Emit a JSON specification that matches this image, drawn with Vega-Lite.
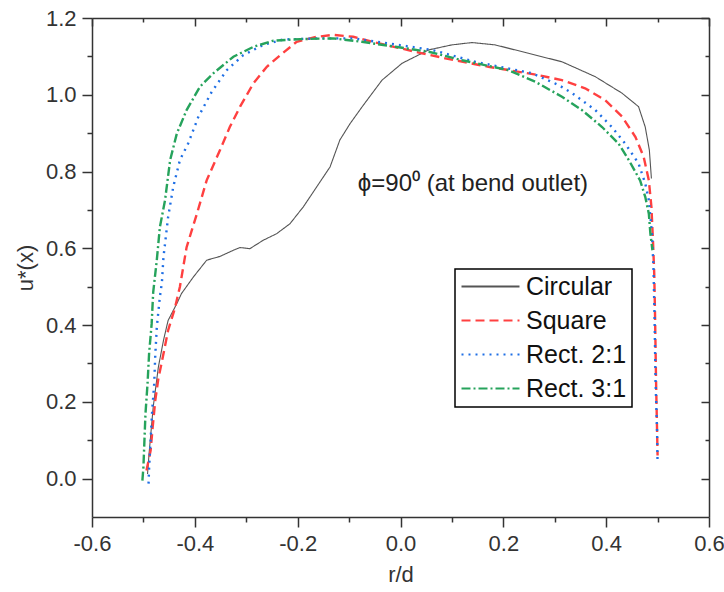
{
  "$schema": "https://vega.github.io/schema/vega-lite/v6.json",
  "width": 617,
  "height": 499,
  "autosize": {"type": "none"},
  "padding": {"left": 92, "top": 18, "right": 15, "bottom": 75},
  "background": "white",
  "config": {
    "view": {"stroke": null},
    "font": "Liberation Sans",
    "axis": {
      "grid": false,
      "domainColor": "#333",
      "domainWidth": 1.5,
      "tickColor": "#333",
      "tickWidth": 1.5,
      "labelFont": "Liberation Sans",
      "labelFontSize": 22,
      "labelColor": "#333",
      "titleFont": "Liberation Sans",
      "titleFontSize": 22,
      "titleFontWeight": "normal",
      "titleColor": "#333"
    },
    "legend": {
      "orient": "none",
      "legendX": 363,
      "legendY": 251,
      "strokeColor": "#000",
      "strokeWidth": 1.5,
      "padding": 5,
      "symbolType": "stroke",
      "symbolSize": 3364,
      "symbolStrokeWidth": 2.2,
      "clipHeight": 25,
      "labelFont": "Liberation Sans",
      "labelFontSize": 25,
      "labelColor": "#111",
      "labelOffset": 5,
      "rowPadding": 8
    }
  },
  "layer": [
    {
      "data": {
        "values": [
          {"series": "Circular", "x": -0.492, "y": 0.012},
          {"series": "Circular", "x": -0.489, "y": 0.065},
          {"series": "Circular", "x": -0.481, "y": 0.186},
          {"series": "Circular", "x": -0.471, "y": 0.29},
          {"series": "Circular", "x": -0.461, "y": 0.36},
          {"series": "Circular", "x": -0.452, "y": 0.412},
          {"series": "Circular", "x": -0.435, "y": 0.456},
          {"series": "Circular", "x": -0.426, "y": 0.482},
          {"series": "Circular", "x": -0.403, "y": 0.525},
          {"series": "Circular", "x": -0.377, "y": 0.569},
          {"series": "Circular", "x": -0.351, "y": 0.579},
          {"series": "Circular", "x": -0.325, "y": 0.595},
          {"series": "Circular", "x": -0.312, "y": 0.602},
          {"series": "Circular", "x": -0.293, "y": 0.599},
          {"series": "Circular", "x": -0.267, "y": 0.621},
          {"series": "Circular", "x": -0.241, "y": 0.638},
          {"series": "Circular", "x": -0.215, "y": 0.664},
          {"series": "Circular", "x": -0.189, "y": 0.708},
          {"series": "Circular", "x": -0.163, "y": 0.76},
          {"series": "Circular", "x": -0.137, "y": 0.812},
          {"series": "Circular", "x": -0.118, "y": 0.882},
          {"series": "Circular", "x": -0.098, "y": 0.925},
          {"series": "Circular", "x": -0.075, "y": 0.968},
          {"series": "Circular", "x": -0.036, "y": 1.038},
          {"series": "Circular", "x": 0.003, "y": 1.082},
          {"series": "Circular", "x": 0.055, "y": 1.117},
          {"series": "Circular", "x": 0.1, "y": 1.13},
          {"series": "Circular", "x": 0.139, "y": 1.136},
          {"series": "Circular", "x": 0.184, "y": 1.13},
          {"series": "Circular", "x": 0.249, "y": 1.108},
          {"series": "Circular", "x": 0.314, "y": 1.086},
          {"series": "Circular", "x": 0.379, "y": 1.047},
          {"series": "Circular", "x": 0.431, "y": 1.004},
          {"series": "Circular", "x": 0.463, "y": 0.969},
          {"series": "Circular", "x": 0.476, "y": 0.916},
          {"series": "Circular", "x": 0.484, "y": 0.856},
          {"series": "Circular", "x": 0.488, "y": 0.782},

          {"series": "Square", "x": -0.494, "y": 0.021},
          {"series": "Square", "x": -0.486, "y": 0.073},
          {"series": "Square", "x": -0.482, "y": 0.134},
          {"series": "Square", "x": -0.477, "y": 0.203},
          {"series": "Square", "x": -0.471, "y": 0.26},
          {"series": "Square", "x": -0.461, "y": 0.325},
          {"series": "Square", "x": -0.452, "y": 0.386},
          {"series": "Square", "x": -0.439, "y": 0.443},
          {"series": "Square", "x": -0.429, "y": 0.5},
          {"series": "Square", "x": -0.416, "y": 0.603},
          {"series": "Square", "x": -0.396, "y": 0.69},
          {"series": "Square", "x": -0.377, "y": 0.777},
          {"series": "Square", "x": -0.351, "y": 0.856},
          {"series": "Square", "x": -0.332, "y": 0.916},
          {"series": "Square", "x": -0.312, "y": 0.969},
          {"series": "Square", "x": -0.286, "y": 1.03},
          {"series": "Square", "x": -0.26, "y": 1.073},
          {"series": "Square", "x": -0.234, "y": 1.103},
          {"series": "Square", "x": -0.202, "y": 1.138},
          {"series": "Square", "x": -0.163, "y": 1.151},
          {"series": "Square", "x": -0.131, "y": 1.156},
          {"series": "Square", "x": -0.092, "y": 1.151},
          {"series": "Square", "x": -0.055, "y": 1.138},
          {"series": "Square", "x": 0.042, "y": 1.108},
          {"series": "Square", "x": 0.087, "y": 1.095},
          {"series": "Square", "x": 0.171, "y": 1.073},
          {"series": "Square", "x": 0.269, "y": 1.051},
          {"series": "Square", "x": 0.314, "y": 1.038},
          {"series": "Square", "x": 0.359, "y": 1.017},
          {"series": "Square", "x": 0.398, "y": 0.986},
          {"series": "Square", "x": 0.431, "y": 0.943},
          {"series": "Square", "x": 0.457, "y": 0.89},
          {"series": "Square", "x": 0.473, "y": 0.838},
          {"series": "Square", "x": 0.483, "y": 0.777},
          {"series": "Square", "x": 0.488, "y": 0.708},
          {"series": "Square", "x": 0.491, "y": 0.621},
          {"series": "Square", "x": 0.4935, "y": 0.534},
          {"series": "Square", "x": 0.495, "y": 0.43},
          {"series": "Square", "x": 0.497, "y": 0.256},
          {"series": "Square", "x": 0.499, "y": 0.125},
          {"series": "Square", "x": 0.5, "y": 0.06},

          {"series": "Rect. 2:1", "x": -0.49, "y": -0.013},
          {"series": "Rect. 2:1", "x": -0.489, "y": 0.026},
          {"series": "Rect. 2:1", "x": -0.486, "y": 0.1},
          {"series": "Rect. 2:1", "x": -0.483, "y": 0.177},
          {"series": "Rect. 2:1", "x": -0.479, "y": 0.247},
          {"series": "Rect. 2:1", "x": -0.477, "y": 0.32},
          {"series": "Rect. 2:1", "x": -0.474, "y": 0.394},
          {"series": "Rect. 2:1", "x": -0.471, "y": 0.434},
          {"series": "Rect. 2:1", "x": -0.468, "y": 0.473},
          {"series": "Rect. 2:1", "x": -0.464, "y": 0.512},
          {"series": "Rect. 2:1", "x": -0.461, "y": 0.577},
          {"series": "Rect. 2:1", "x": -0.452, "y": 0.681},
          {"series": "Rect. 2:1", "x": -0.442, "y": 0.76},
          {"series": "Rect. 2:1", "x": -0.429, "y": 0.83},
          {"series": "Rect. 2:1", "x": -0.413, "y": 0.873},
          {"series": "Rect. 2:1", "x": -0.393, "y": 0.943},
          {"series": "Rect. 2:1", "x": -0.367, "y": 1.008},
          {"series": "Rect. 2:1", "x": -0.338, "y": 1.064},
          {"series": "Rect. 2:1", "x": -0.306, "y": 1.103},
          {"series": "Rect. 2:1", "x": -0.267, "y": 1.13},
          {"series": "Rect. 2:1", "x": -0.228, "y": 1.144},
          {"series": "Rect. 2:1", "x": -0.157, "y": 1.147},
          {"series": "Rect. 2:1", "x": -0.092, "y": 1.147},
          {"series": "Rect. 2:1", "x": 0.061, "y": 1.117},
          {"series": "Rect. 2:1", "x": 0.145, "y": 1.086},
          {"series": "Rect. 2:1", "x": 0.256, "y": 1.056},
          {"series": "Rect. 2:1", "x": 0.308, "y": 1.025},
          {"series": "Rect. 2:1", "x": 0.334, "y": 1.004},
          {"series": "Rect. 2:1", "x": 0.379, "y": 0.96},
          {"series": "Rect. 2:1", "x": 0.411, "y": 0.916},
          {"series": "Rect. 2:1", "x": 0.437, "y": 0.873},
          {"series": "Rect. 2:1", "x": 0.463, "y": 0.821},
          {"series": "Rect. 2:1", "x": 0.476, "y": 0.769},
          {"series": "Rect. 2:1", "x": 0.483, "y": 0.725},
          {"series": "Rect. 2:1", "x": 0.489, "y": 0.638},
          {"series": "Rect. 2:1", "x": 0.492, "y": 0.551},
          {"series": "Rect. 2:1", "x": 0.494, "y": 0.43},
          {"series": "Rect. 2:1", "x": 0.496, "y": 0.256},
          {"series": "Rect. 2:1", "x": 0.499, "y": 0.125},
          {"series": "Rect. 2:1", "x": 0.5, "y": 0.038},

          {"series": "Rect. 3:1", "x": -0.502, "y": -0.005},
          {"series": "Rect. 3:1", "x": -0.5, "y": 0.03},
          {"series": "Rect. 3:1", "x": -0.498, "y": 0.1},
          {"series": "Rect. 3:1", "x": -0.496, "y": 0.169},
          {"series": "Rect. 3:1", "x": -0.492, "y": 0.247},
          {"series": "Rect. 3:1", "x": -0.489, "y": 0.325},
          {"series": "Rect. 3:1", "x": -0.484, "y": 0.403},
          {"series": "Rect. 3:1", "x": -0.481, "y": 0.485},
          {"series": "Rect. 3:1", "x": -0.474, "y": 0.569},
          {"series": "Rect. 3:1", "x": -0.468, "y": 0.655},
          {"series": "Rect. 3:1", "x": -0.458, "y": 0.725},
          {"series": "Rect. 3:1", "x": -0.448, "y": 0.83},
          {"series": "Rect. 3:1", "x": -0.435, "y": 0.899},
          {"series": "Rect. 3:1", "x": -0.416, "y": 0.96},
          {"series": "Rect. 3:1", "x": -0.39, "y": 1.021},
          {"series": "Rect. 3:1", "x": -0.364, "y": 1.056},
          {"series": "Rect. 3:1", "x": -0.325, "y": 1.099},
          {"series": "Rect. 3:1", "x": -0.286, "y": 1.125},
          {"series": "Rect. 3:1", "x": -0.247, "y": 1.141},
          {"series": "Rect. 3:1", "x": -0.195, "y": 1.145},
          {"series": "Rect. 3:1", "x": -0.131, "y": 1.147},
          {"series": "Rect. 3:1", "x": -0.075, "y": 1.138},
          {"series": "Rect. 3:1", "x": -0.01, "y": 1.125},
          {"series": "Rect. 3:1", "x": 0.055, "y": 1.112},
          {"series": "Rect. 3:1", "x": 0.12, "y": 1.09},
          {"series": "Rect. 3:1", "x": 0.21, "y": 1.064},
          {"series": "Rect. 3:1", "x": 0.262, "y": 1.034},
          {"series": "Rect. 3:1", "x": 0.314, "y": 0.995},
          {"series": "Rect. 3:1", "x": 0.353, "y": 0.96},
          {"series": "Rect. 3:1", "x": 0.392, "y": 0.916},
          {"series": "Rect. 3:1", "x": 0.424, "y": 0.873},
          {"series": "Rect. 3:1", "x": 0.444, "y": 0.83},
          {"series": "Rect. 3:1", "x": 0.466, "y": 0.777},
          {"series": "Rect. 3:1", "x": 0.476, "y": 0.734},
          {"series": "Rect. 3:1", "x": 0.483, "y": 0.69},
          {"series": "Rect. 3:1", "x": 0.486, "y": 0.638},
          {"series": "Rect. 3:1", "x": 0.49, "y": 0.595}
        ]
      },
      "mark": {"type": "line", "clip": true},
      "encoding": {
        "x": {
          "field": "x",
          "type": "quantitative",
          "scale": {"domain": [-0.6, 0.6], "nice": false, "zero": false},
          "axis": {
            "orient": "bottom",
            "title": "r/d",
            "values": [-0.6, -0.5, -0.4, -0.3, -0.2, -0.1, 0, 0.1, 0.2, 0.3, 0.4, 0.5, 0.6],
            "labelExpr": "abs(round(datum.value*10)) % 2 == 0 ? replace(format(datum.value, '.1f'), '\u2212', '-') : ''",
            "tickSize": {"condition": {"test": "abs(round(datum.value*10)) % 2 == 0", "value": 10}, "value": 5},
            "labelPadding": 6,
            "titlePadding": 10,
            "labelFlush": false,
            "labelOverlap": false
          }
        },
        "y": {
          "field": "y",
          "type": "quantitative",
          "scale": {"domain": [-0.1, 1.2], "nice": false, "zero": false},
          "axis": {
            "orient": "left",
            "title": "u*(x)",
            "values": [0, 0.1, 0.2, 0.3, 0.4, 0.5, 0.6, 0.7, 0.8, 0.9, 1.0, 1.1, 1.2],
            "labelExpr": "abs(round(datum.value*10)) % 2 == 0 ? format(datum.value, '.1f') : ''",
            "tickSize": {"condition": {"test": "abs(round(datum.value*10)) % 2 == 0", "value": 10}, "value": 5},
            "labelPadding": 6,
            "titlePadding": 8,
            "labelFlush": false,
            "labelOverlap": false
          }
        },
        "color": {
          "field": "series",
          "type": "nominal",
          "scale": {
            "domain": ["Circular", "Square", "Rect. 2:1", "Rect. 3:1"],
            "range": ["#555555", "#ff4040", "#1f6fe5", "#26a35c"]
          },
          "legend": {"title": null}
        },
        "strokeDash": {
          "field": "series",
          "type": "nominal",
          "scale": {
            "domain": ["Circular", "Square", "Rect. 2:1", "Rect. 3:1"],
            "range": [[1, 0], [9, 5], [2, 5], [9, 3, 2, 3]]
          },
          "legend": {"title": null}
        },
        "strokeWidth": {
          "condition": {"test": "datum.series === 'Circular'", "value": 1.1},
          "value": 2.4
        }
      }
    },
    {
      "data": {"values": [{"x": -0.083, "y": 0.749, "label": "ϕ=90⁰ (at bend outlet)"}]},
      "mark": {"type": "text", "align": "left", "baseline": "alphabetic", "fontSize": 24, "font": "Liberation Sans", "color": "#222"},
      "encoding": {
        "x": {
          "field": "x",
          "type": "quantitative",
          "axis": {
            "orient": "top",
            "title": null,
            "labels": false,
            "values": [-0.6, -0.5, -0.4, -0.3, -0.2, -0.1, 0, 0.1, 0.2, 0.3, 0.4, 0.5, 0.6],
            "tickSize": {"condition": {"test": "abs(round(datum.value*10)) % 2 == 0", "value": -8}, "value": -4}
          }
        },
        "y": {
          "field": "y",
          "type": "quantitative",
          "axis": {
            "orient": "right",
            "title": null,
            "labels": false,
            "values": [0, 0.1, 0.2, 0.3, 0.4, 0.5, 0.6, 0.7, 0.8, 0.9, 1.0, 1.1, 1.2],
            "tickSize": {"condition": {"test": "abs(round(datum.value*10)) % 2 == 0", "value": -8}, "value": -4}
          }
        },
        "text": {"field": "label", "type": "nominal"}
      }
    }
  ],
  "resolve": {"axis": {"x": "independent", "y": "independent"}}
}
